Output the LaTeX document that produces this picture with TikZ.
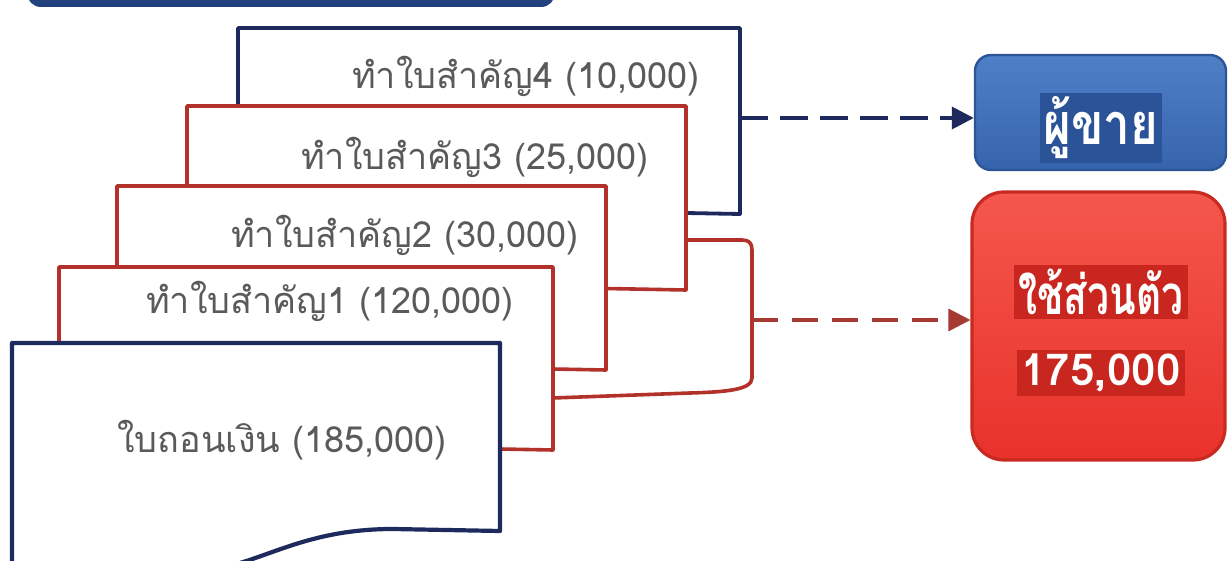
\documentclass[tikz,border=0pt]{standalone}
\usepackage{fontspec}
\newfontfamily\thai[Script=Thai]{Loma}
\usetikzlibrary{arrows.meta}
\definecolor{navy}{HTML}{1E2A5E}
\definecolor{docred}{HTML}{B3312B}
\definecolor{arrred}{HTML}{A63A33}
\definecolor{txtgray}{HTML}{5A5A5A}
\definecolor{bluetop}{HTML}{4E80C8}
\definecolor{bluebot}{HTML}{3664AC}
\definecolor{blueedge}{HTML}{2D5596}
\definecolor{bluehl}{HTML}{2B5398}
\definecolor{redtop}{HTML}{F4574C}
\definecolor{redbot}{HTML}{E8322B}
\definecolor{rededge}{HTML}{C82A22}
\definecolor{redhl}{HTML}{C9261F}
\definecolor{barnavy}{HTML}{1F3E7C}
\newcommand\docpath[4]{(#1,#2) -- (#3,#2) -- (#3,#4) -- ({#3-107},{#4-2}) .. controls ({#3-180},{#4-2}) and ({#3-220},{#4+20}) .. ({#3-260},{#4+32}) .. controls ({#3-330},{#4+50}) and ({#3-420},{#4+50}) .. (#1,{#4+40}) -- cycle}
\tikzset{
  navydoc/.style={draw=navy, fill=white, line width=1.9pt, line join=round},
  reddoc/.style={draw=docred, fill=white, line width=1.8pt, line join=round},
  doctext/.style={text=txtgray, font=\thai\fontsize{18}{21}\selectfont, inner sep=0pt},
  hltext/.style={text=white, font=\thai\bfseries\fontsize{25}{30}\selectfont, inner sep=2pt},
  navyarrow/.style={draw=navy, line width=1.8pt, dash pattern=on 14pt off 6pt, -{Triangle[length=11pt,width=11pt]}},
  redarrow/.style={draw=arrred, line width=1.7pt, dash pattern=on 13pt off 7pt, -{Triangle[length=11pt,width=11pt]}},
}
\begin{document}
\begin{tikzpicture}[x=0.5pt,y=-0.5pt]
\clip (0,0) rectangle (1228,561);
\fill[white] (0,0) rectangle (1228,561);
% top bar (cut off)
\shade[top color=barnavy!80, bottom color=barnavy, rounded corners=7pt] (27,-60) rectangle (555,7);
% documents back to front
\draw[navydoc] \docpath{238}{28}{740}{214};
\node[doctext] (d4) at (526,76) {ทำใบสำคัญ4 (10,000)};
\draw[reddoc] \docpath{187}{106}{686}{290};
\node[doctext] (d3) at (475,157) {ทำใบสำคัญ3 (25,000)};
\draw[reddoc] \docpath{117}{186}{606}{370};
\node[doctext] (d2) at (405,235) {ทำใบสำคัญ2 (30,000)};
% bracket grouping documents 1-3
\coordinate (b0) at (686,240);
\coordinate (bm) at (752,320);
\draw[docred, line width=1.8pt, line join=round] (b0) -- (742,240) .. controls (749,240) and (752,243) .. (752,250) -- (752,378) .. controls (752,390) and (725,392) .. (690,393) -- (553,398);
\draw[reddoc] \docpath{59}{267}{553}{450};
\node[doctext] (d1) at (330,301) {ทำใบสำคัญ1 (120,000)};
\draw[navydoc, line width=2.1pt] \docpath{12}{343}{500}{531};
\node[doctext] (d0) at (282,440) {ใบถอนเงิน (185,000)};
% target boxes
\node[draw=blueedge, line width=1.2pt, top color=bluetop, bottom color=bluebot, rounded corners=8pt, minimum width=125.5pt, minimum height=57.5pt] (seller) at (1100.5,112.5) {};
\node[hltext, fill=bluehl] (sellert) at (1101,128) {\scalebox{0.95}[1.15]{ผู้ขาย}};
\node[draw=rededge, line width=1.6pt, top color=redtop, bottom color=redbot, rounded corners=16pt, minimum width=126.5pt, minimum height=134pt] (personal) at (1098.5,326) {};
\node[hltext, fill=redhl, font=\thai\bfseries\fontsize{19.5}{24}\selectfont] (pt1) at (1101,292) {\scalebox{1}[1.4]{ใช้ส่วนตัว}};
\node[hltext, fill=redhl, font=\thai\bfseries\fontsize{22}{26}\selectfont] (pt2) at (1101,373) {175,000};
% connectors
\coordinate (a4) at (740,118);
\draw[navyarrow] (a4) -- (seller.west |- a4);
\draw[redarrow] (bm) -- (personal.west |- bm);
\end{tikzpicture}
\end{document}
